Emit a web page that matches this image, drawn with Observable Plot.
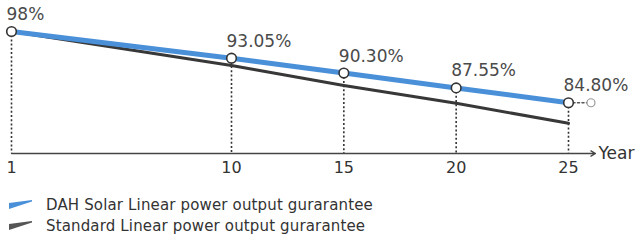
<!DOCTYPE html>
<html>
<head>
<meta charset="utf-8">
<script src="https://cdn.jsdelivr.net/npm/d3@7"></script>
<script src="https://cdn.jsdelivr.net/npm/@observablehq/plot@0.6"></script>
<style>
  html, body { margin: 0; padding: 0; background: #fff; }
  body { width: 640px; height: 243px; overflow: hidden; font-family: "DejaVu Sans", sans-serif; }
  #legend { margin-top: 9px; }
  .row { display: flex; align-items: center; height: 21px; color: #333; font-size: 15px; letter-spacing: 0.15px; }
  .row svg { margin-left: 9px; margin-right: 13px; }
</style>
</head>
<body>
<div id="chart"></div>
<div id="legend"></div>
<script>
const years = [1, 10, 15, 20, 25];
const dahValues = [98, 93.05, 90.30, 87.55, 84.80];
const standardValues = [98, 91.7, 88.0, 84.7, 81.0];
const valueLabels = ["98%", "93.05%", "90.30%", "87.55%", "84.80%"];
const tickLabels = ["1", "10", "15", "20", "25"];
const extensionYears = [25, 26];
const extensionValue = 84.80;
const axisEndYear = 26.2;
const axisTitle = "Year";
const seriesNames = ["DAH Solar Linear power output gurarantee", "Standard Linear power output gurarantee"];
const seriesColors = ["#4a90d9", "#555555"];

const yMin = 75.4;
const dah = years.map((y, i) => ({year: y, value: dahValues[i], label: valueLabels[i]}));
const std = years.map((y, i) => ({year: y, value: standardValues[i]}));
const ext = extensionYears.map(y => ({year: y, value: extensionValue}));

const chart = Plot.plot({
  width: 640,
  height: 185,
  marginTop: 31,
  marginBottom: 32,
  marginLeft: 11,
  marginRight: 72,
  style: {fontFamily: "DejaVu Sans, sans-serif", background: "#fff", overflow: "visible"},
  x: {type: "linear", domain: [1, 10, 25], range: [11, 231, 568], axis: null},
  y: {domain: [yMin, 98], axis: null},
  marks: [
    Plot.ruleX(dah, {x: "year", y1: "value", y2: () => yMin, stroke: "#333", strokeWidth: 1.6, strokeDasharray: "2,2.2"}),
    Plot.line(std, {x: "year", y: "value", stroke: "#383838", strokeWidth: 3}),
    Plot.line(dah, {x: "year", y: "value", stroke: seriesColors[0], strokeWidth: 5}),
    Plot.line(ext, {x: "year", y: "value", stroke: "#555", strokeWidth: 1.5, strokeDasharray: "2,2.5"}),
    Plot.dot(ext.slice(1), {x: "year", y: "value", r: 4, fill: "#fff", stroke: "#999", strokeWidth: 1.2}),
    Plot.dot(dah, {x: "year", y: "value", r: 4.8, fill: "#fff", stroke: "#333", strokeWidth: 1.6}),
    Plot.text(dah, {x: "year", y: "value", text: "label", textAnchor: "start", dx: -5, dy: -17, fontSize: 17, fill: "#4a4a4a"}),
    Plot.arrow([{x1: 1, x2: axisEndYear}], {x1: "x1", x2: "x2", y1: () => yMin, y2: () => yMin, stroke: "#444", strokeWidth: 1.3, headLength: 6}),
    Plot.text([axisTitle], {x: () => axisEndYear, y: () => yMin, text: d => d, textAnchor: "start", dx: 3, fontSize: 17, fill: "#333"}),
    Plot.axisX(years, {tickSize: 0, tickPadding: 8, fontSize: 16, tickFormat: (d) => tickLabels[years.indexOf(d)], color: "#333", label: null})
  ]
});
document.getElementById("chart").appendChild(chart);

const legend = document.getElementById("legend");
seriesNames.forEach((name, i) => {
  const row = document.createElement("div");
  row.className = "row";
  row.innerHTML = `<svg width="24" height="10"><polygon points="0,3 23,0 23,1.5 0,9" fill="${seriesColors[i]}"></polygon></svg><span>${name}</span>`;
  legend.appendChild(row);
});
</script>
</body>
</html>
